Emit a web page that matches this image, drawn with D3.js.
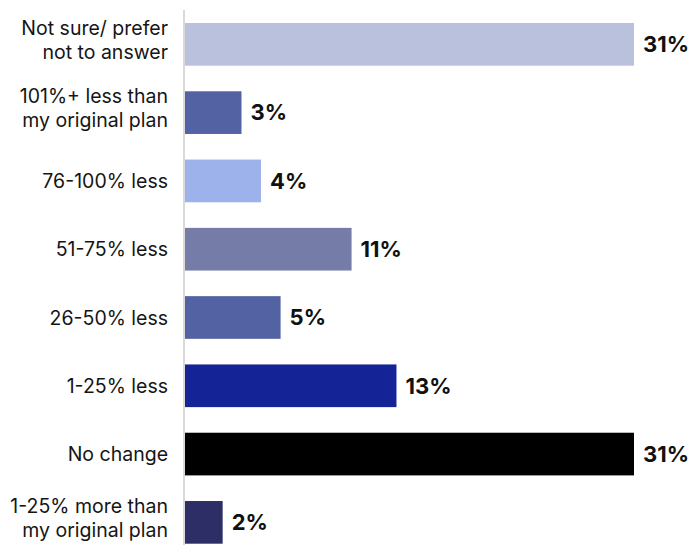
<!DOCTYPE html>
<html>
<head>
<meta charset="utf-8">
<script src="https://cdn.jsdelivr.net/npm/d3@7"></script>
<style>
  body { margin: 0; background: #fff; }
  svg { display: block; }
</style>
</head>
<body>
<div id="viz"></div>
<script>
const width = 699,
    height = 545;

// answers, top to bottom
const categories = [
    ["Not sure/ prefer", "not to answer"],
    ["101%+ less than", "my original plan"],
    ["76-100% less"],
    ["51-75% less"],
    ["26-50% less"],
    ["1-25% less"],
    ["No change"],
    ["1-25% more than", "my original plan"]
];

// bar lengths as drawn in the picture (the printed labels don't scale with them)
const barValues = [31, 3.9, 5.25, 11.5, 6.6, 14.6, 31, 2.6];
const valueLabels = ["31%", "3%", "4%", "11%", "5%", "13%", "31%", "2%"];
const colors = ["#b9c1dd", "#5262a2", "#9db1ea", "#767ca8", "#5262a2", "#142496", "#000000", "#2d2e66"];

const left = 185;

const svg = d3.select("#viz").append("svg")
    .attr("width", width)
    .attr("height", height);

const x = d3.scaleLinear()
    .domain([0, 31])
    .range([left, left + 449]);

const y = d3.scaleBand()
    .domain(d3.range(categories.length))
    .range([23, 543.7])
    .paddingInner(0.375)
    .paddingOuter(0);

svg.selectAll(".bar")
    .data(barValues)
    .enter().append("rect")
    .attr("class", "bar")
    .attr("x", x(0))
    .attr("y", (d, i) => y(i))
    .attr("width", d => x(d) - x(0))
    .attr("height", y.bandwidth())
    .attr("fill", (d, i) => colors[i]);

// vertical axis line
svg.append("line")
    .attr("x1", left - 1)
    .attr("x2", left - 1)
    .attr("y1", 10)
    .attr("y2", height)
    .attr("stroke", "#d9d9d9")
    .attr("stroke-width", 2);

// category labels
const cat = svg.selectAll(".cat")
    .data(categories)
    .enter().append("text")
    .attr("class", "cat")
    .attr("text-anchor", "end")
    .attr("font-family", "Inter, 'Liberation Sans', sans-serif")
    .attr("font-size", 19.5)
    .attr("fill", "#151515")
    .attr("transform", (d, i) => "translate(168," + (y(i) + y.bandwidth() / 2) + ")");

cat.selectAll("tspan")
    .data(d => d.map(t => ({ t: t, n: d.length })))
    .enter().append("tspan")
    .attr("x", 0)
    .attr("y", (d, j) => d.n === 1 ? 7.2 : (j === 0 ? -9.2 : 14.2))
    .text(d => d.t);

// value labels
svg.selectAll(".val")
    .data(barValues)
    .enter().append("text")
    .attr("class", "val")
    .attr("x", d => x(d) + 9)
    .attr("y", (d, i) => y(i) + y.bandwidth() / 2 + 7.8)
    .attr("font-family", "Inter, 'Liberation Sans', sans-serif")
    .attr("font-weight", "bold")
    .attr("font-size", 22)
    .attr("fill", "#111")
    .text((d, i) => valueLabels[i]);
</script>
</body>
</html>
